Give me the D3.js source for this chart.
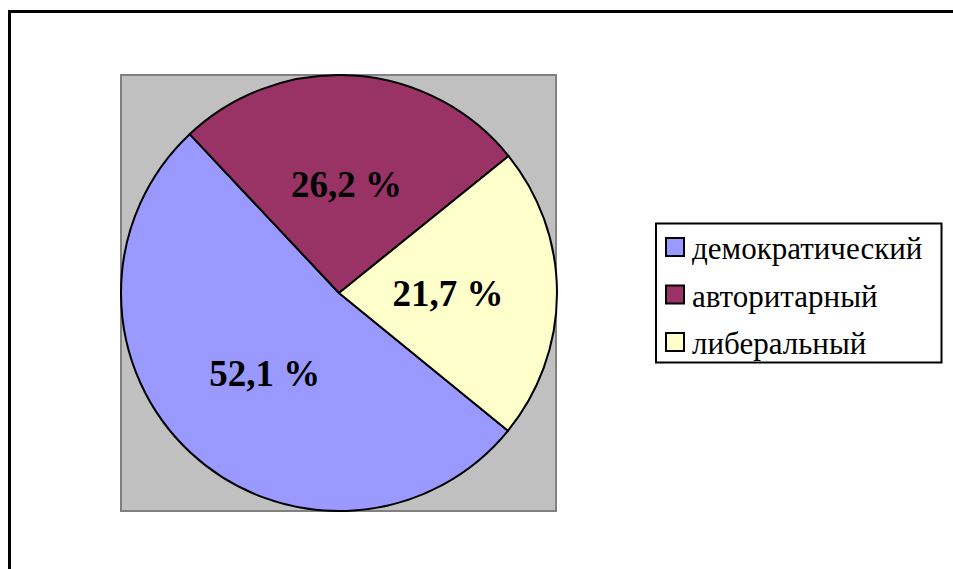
<!DOCTYPE html>
<html><head><meta charset="utf-8">
<script src="https://cdn.jsdelivr.net/npm/d3@7"></script>
<style>
body{margin:0;background:#fff}
</style>
</head><body>
<svg id="c" width="953" height="569"></svg>
<script>
const categories = ["демократический", "авторитарный", "либеральный"];
const values = [52.1, 26.2, 21.7];
const labels = ["52,1 %", "26,2 %", "21,7 %"];
const colors = ["#9999FF", "#993366", "#FFFFCC"];
const FONT = "Liberation Serif";

const svg = d3.select("#c");
// outer chart frame
svg.append("path").attr("d", "M9.5,575 L9.5,11.5 L960,11.5")
  .attr("fill", "none").attr("stroke", "#000").attr("stroke-width", 3);

// plot area
svg.append("rect").attr("x", 121).attr("y", 75).attr("width", 435).attr("height", 436)
  .attr("fill", "#C0C0C0").attr("stroke", "#808080").attr("stroke-width", 2);

const cx = 339, cy = 293, r = 218;
const start = 129.2 * Math.PI / 180;
const pie = d3.pie().sort(null).value(d => d).startAngle(start).endAngle(start + 2 * Math.PI);
const arcs = pie(values);
const arc = d3.arc().innerRadius(0).outerRadius(r);
const labelArc = d3.arc().innerRadius(r * 0.5).outerRadius(r * 0.5);

const g = svg.append("g").attr("transform", `translate(${cx},${cy})`);
g.selectAll("path.s").data(arcs).join("path").attr("class", "s")
  .attr("d", arc).attr("fill", (d, i) => colors[i])
  .attr("stroke", "#000").attr("stroke-width", 2).attr("stroke-linejoin", "round");
g.selectAll("text").data(arcs).join("text")
  .attr("x", d => labelArc.centroid(d)[0]).attr("y", d => labelArc.centroid(d)[1] + 13)
  .attr("text-anchor", "middle")
  .style("font-family", FONT).style("font-weight", "bold").style("font-size", "37px")
  .text((d, i) => labels[i]);

// legend
svg.append("rect").attr("x", 656).attr("y", 223.5).attr("width", 285.5).attr("height", 139)
  .attr("fill", "#fff").attr("stroke", "#000").attr("stroke-width", 2);
const ly = d3.scalePoint().domain(categories).range([247, 342]);
categories.forEach((c, i) => {
  const y = ly(c);
  svg.append("rect").attr("x", 666).attr("y", y - 9).attr("width", 18).attr("height", 18)
    .attr("fill", colors[i]).attr("stroke", "#000").attr("stroke-width", 2);
  svg.append("text").attr("x", 692).attr("y", y + 12)
    .style("font-family", FONT).style("font-size", "31px")
    .text(c);
});
</script>
</body></html>
